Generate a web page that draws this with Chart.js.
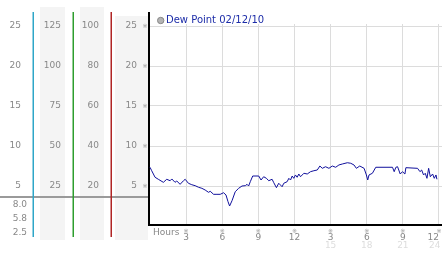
<!DOCTYPE html>
<html>
<head>
<meta charset="utf-8">
<script src="https://cdn.jsdelivr.net/npm/chart.js@4.4.0/dist/chart.umd.min.js"></script>
<style>
  body { margin: 0; background: #fff; }
  #wrap { width: 442px; height: 253px; position: relative; }
</style>
</head>
<body>
<div id="wrap"><canvas id="dewChart"></canvas></div>
<script>
// Dew point readings (hours since midnight, value)
const hours = [0.00, 0.14, 0.42, 0.69, 1.11, 1.39, 1.67, 1.81, 2.08, 2.22, 2.50, 2.78, 2.92, 3.19, 3.47, 3.75,
  4.03, 4.31, 4.58, 4.86, 5.00, 5.28, 5.56, 5.83, 6.11, 6.31, 6.48, 6.61, 6.81, 7.08, 7.36, 7.64, 7.92, 8.06,
  8.19, 8.33, 8.53, 9.03, 9.22, 9.44, 9.67, 9.86, 10.14, 10.28, 10.50, 10.69, 10.83, 10.97, 11.11, 11.39,
  11.53, 11.67, 11.81, 11.94, 12.08, 12.22, 12.36, 12.50, 12.78, 13.06, 13.33, 13.61, 13.89, 14.11, 14.31,
  14.58, 14.86, 15.14, 15.42, 15.69, 15.97, 16.39, 16.67, 16.94, 17.14, 17.42, 17.78, 17.97, 18.08, 18.19,
  18.47, 18.75, 20.14, 20.28, 20.42, 20.56, 20.78, 20.97, 21.17, 21.25, 22.22, 22.42, 22.56, 22.72, 22.86,
  23.00, 23.14, 23.28, 23.47, 23.61, 23.75, 23.83];
const dewPoint = [7.34, 6.91, 6.09, 5.84, 5.46, 5.84, 5.66, 5.88, 5.46, 5.63, 5.21, 5.66, 5.84, 5.34, 5.16, 5.04,
  4.84, 4.71, 4.50, 4.21, 4.34, 3.96, 3.96, 3.96, 4.16, 3.88, 3.04, 2.50, 3.16, 4.29, 4.71, 5.00, 5.04, 5.21,
  5.00, 5.54, 6.25, 6.25, 5.75, 6.16, 5.96, 5.66, 5.84, 5.41, 4.79, 5.34, 5.13, 4.91, 5.34, 5.54,
  5.96, 5.75, 6.25, 5.96, 6.38, 6.09, 6.50, 6.16, 6.59, 6.50, 6.79, 6.91, 7.00, 7.50, 7.21,
  7.41, 7.21, 7.50, 7.34, 7.63, 7.75, 7.91, 7.84, 7.63, 7.21, 7.50, 7.21, 6.38, 5.75, 6.38,
  6.59, 7.34, 7.34, 6.79, 7.34, 7.41, 6.50, 6.79, 6.50, 7.29, 7.21, 6.79, 7.00, 6.38, 6.59,
  5.96, 7.21, 6.16, 6.50, 5.96, 6.38, 5.84];

const seriesLabel = 'Dew Point 02/12/10';
const mainTicks = [5, 10, 15, 20, 25];
const scale5Ticks = [25, 50, 75, 100, 125];
const scale4Ticks = [20, 40, 60, 80, 100];
const hourTicks = [3, 6, 9, 12, 15, 18, 21, 24];
const lateHours = [15, 18, 21, 24];
const lowerLabels = ['8.0', '5.8', '2.5'];

const yMin = 0.125, yMax = 26.625;
const xMin = -1 / 12, xMax = 292 / 12 - 1 / 12;

Chart.defaults.font.family = 'DejaVu Sans';
Chart.defaults.font.size = 9;
Chart.defaults.color = '#888';

function leftAxis(weight, width, factor, ticks) {
  return {
    position: 'left',
    weight: weight,
    min: yMin * factor,
    max: yMax * factor,
    grid: { display: false, drawTicks: false },
    border: { display: false },
    ticks: { padding: 12, color: '#888' },
    afterBuildTicks: s => { s.ticks = ticks.map(v => ({ value: v })); },
    afterFit: s => { s.width = width; s.paddingTop = 0; s.paddingBottom = 0; }
  };
}

const extras = {
  id: 'extras',
  beforeDraw(chart) {
    const c = chart.ctx;
    c.save();
    c.fillStyle = '#f4f4f4';
    c.fillRect(40, 7, 25, 233);
    c.fillRect(80, 7, 24, 233);
    c.fillRect(115, 16, 33, 224);
    c.restore();
  },
  beforeDatasetsDraw(chart) {
    // grid stops below the legend row
    const c = chart.ctx, a = chart.chartArea;
    c.save();
    c.fillStyle = '#fff';
    c.fillRect(a.left + 1, a.top, a.right - a.left, 11);
    c.restore();
  },
  afterDraw(chart) {
    const c = chart.ctx, a = chart.chartArea;
    const s = chart.scales;
    c.save();
    // separator line under the left panels
    c.strokeStyle = '#9a9a9a';
    c.lineWidth = 2;
    c.beginPath(); c.moveTo(0, 197); c.lineTo(a.left - 1, 197); c.stroke();
    // coloured panel dividers
    const cols = [['y1', '#2ea6c8'], ['y2', '#2e9e2e'], ['y3', '#b02525']];
    c.lineWidth = 1.5;
    cols.forEach(([id, col]) => {
      const x = Math.round(s[id].right) + 0.25;
      c.strokeStyle = col;
      c.beginPath(); c.moveTo(x, 12); c.lineTo(x, 237); c.stroke();
    });
    // lower labels
    c.font = '9px DejaVu Sans';
    c.fillStyle = '#888';
    c.textAlign = 'right';
    c.textBaseline = 'middle';
    lowerLabels.forEach((t, i) => c.fillText(t, 27, 204.5 + i * 14));
    // tick marks
    c.font = '6px DejaVu Sans';
    c.fillStyle = '#999';
    c.textAlign = 'center';
    mainTicks.forEach(v => c.fillText('\u203B', 145, s.y.getPixelForValue(v)));
    hourTicks.forEach(v => c.fillText('\u203B', s.x.getPixelForValue(v), 231));
    // axis title
    c.font = '9px DejaVu Sans';
    c.fillStyle = '#888';
    c.textAlign = 'left';
    c.fillText('Hours', 153, 232.5);
    // 24h labels
    c.fillStyle = '#ddd';
    lateHours.forEach((v, i) => {
      const last = i === lateHours.length - 1;
      c.textAlign = last ? 'right' : 'center';
      c.fillText(String(v), s.x.getPixelForValue(v) + (last ? 1.5 : 0), 245.5);
    });
    // legend
    c.beginPath();
    c.arc(160.7, 20.5, 3.2, 0, Math.PI * 2);
    c.fillStyle = '#b4b4b4'; c.fill();
    c.strokeStyle = '#888'; c.lineWidth = 1; c.stroke();
    c.font = '10px DejaVu Sans';
    c.fillStyle = '#1c2ca8';
    c.textAlign = 'left';
    c.fillText(seriesLabel, 166, 20.5);
    c.restore();
  }
};

const ctx = document.getElementById('dewChart').getContext('2d');
new Chart(ctx, {
  type: 'line',
  data: {
    datasets: [{
      label: seriesLabel,
      data: hours.map((h, i) => ({ x: h, y: dewPoint[i] })),
      borderColor: '#10109c',
      borderWidth: 1,
      pointRadius: 0,
      tension: 0,
      yAxisID: 'y'
    }]
  },
  options: {
    responsive: true,
    maintainAspectRatio: false,
    animation: false,
    events: [],
    layout: { padding: { top: 13, left: 0, right: 0, bottom: 0 } },
    plugins: { legend: { display: false }, tooltip: { enabled: false } },
    scales: {
      x: {
        type: 'linear',
        min: xMin,
        max: xMax,
        grid: { color: '#dcdcdc', drawTicks: false },
        border: { color: '#000', width: 2 },
        ticks: {
          padding: 7,
          color: '#888',
          align: 'inner',
          callback: v => (v < 1 ? '' : v > 12 ? v - 12 : v)
        },
        // blank tick at the left edge so only the last label is pulled inward
        afterBuildTicks: s => { s.ticks = [xMin].concat(hourTicks).map(v => ({ value: v })); },
        afterFit: s => { s.height = 28; s.paddingLeft = 0; s.paddingRight = 0; }
      },
      y1: leftAxis(4, 33, 1, mainTicks),
      y2: leftAxis(3, 40, 5, scale5Ticks),
      y3: leftAxis(2, 38, 4, scale4Ticks),
      y: {
        position: 'left',
        weight: 1,
        min: yMin,
        max: yMax,
        grid: { color: '#dcdcdc', drawTicks: false },
        border: { color: '#000', width: 2 },
        ticks: { padding: 12, color: '#888' },
        afterBuildTicks: s => { s.ticks = mainTicks.map(v => ({ value: v })); },
        afterFit: s => { s.width = 38; s.paddingTop = 0; s.paddingBottom = 0; }
      }
    }
  },
  plugins: [extras]
});
</script>
</body>
</html>
